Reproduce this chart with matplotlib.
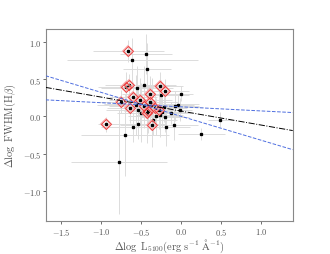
import numpy as np
import matplotlib
matplotlib.use("Agg")
import matplotlib.pyplot as plt

plt.rcParams['font.family'] = 'serif'
plt.rcParams['font.serif'] = ['cmr10', 'DejaVu Serif']
plt.rcParams['mathtext.fontset'] = 'cm'
plt.rcParams['axes.formatter.use_mathtext'] = True

# black points (all sources)
x_all = [-0.66, -0.44, -0.61, -0.43, -0.69, -0.65, -0.46, -0.555, -0.27, -0.206, -0.25,
         0.0, -0.605, -0.395, -0.756, -0.51, -0.386, -0.46, -0.56, -0.635, -0.33, -0.28,
         -0.41, -0.43, -0.54, -0.24, -0.08, -0.04, -0.126, -0.2, -0.27, -0.32, -0.35,
         -0.017, -0.94, -0.366, -0.54, -0.6, -0.185, -0.09, -0.706, 0.256, -0.78, 0.487,
         -0.22, -0.37, -0.5]
y_all = [0.88, 0.84, 0.75, 0.64, 0.39, 0.42, 0.42, 0.375, 0.40, 0.344, 0.285,
         0.30, 0.26, 0.295, 0.196, 0.214, 0.196, 0.143, 0.15, 0.116, 0.107, 0.085,
         0.07, 0.045, 0.09, 0.06, 0.134, 0.15, 0.04, -0.013, 0.018, 0.0, -0.045,
         0.09, -0.107, -0.116, -0.11, -0.15, -0.15, -0.12, -0.25, -0.24, -0.61, -0.044,
         0.12, 0.16, 0.05]
xerr_all = [0.44, 0.33, 0.82, 0.3, 0.35, 0.3, 0.4, 0.45, 0.3, 0.3, 0.35,
            0.15, 0.3, 0.35, 0.3, 0.4, 0.35, 0.45, 0.5, 0.3, 0.4, 0.35,
            0.3, 0.35, 0.4, 0.3, 0.3, 0.2, 0.25, 0.3, 0.3, 0.35, 0.3,
            0.15, 0.1, 0.4, 0.35, 0.4, 0.3, 0.3, 0.55, 0.3, 0.6, 0.15,
            0.5, 0.6, 0.3]
yerr_all = [0.15, 0.27, 0.3, 0.35, 0.2, 0.15, 0.25, 0.3, 0.2, 0.15, 0.2,
            0.1, 0.2, 0.2, 0.15, 0.3, 0.35, 0.3, 0.4, 0.2, 0.2, 0.25,
            0.3, 0.4, 0.3, 0.2, 0.2, 0.15, 0.15, 0.2, 0.3, 0.25, 0.2,
            0.15, 0.1, 0.3, 0.2, 0.2, 0.25, 0.2, 0.55, 0.08, 0.7, 0.1,
            0.2, 0.35, 0.4]

# sources marked with red diamonds
x_red = [-0.66, -0.69, -0.65, -0.756, -0.605, -0.635, -0.94, -0.395, -0.27, -0.206,
         -0.51, -0.46, -0.386, -0.41, -0.366, -0.33, -0.28, -0.43]
y_red = [0.88, 0.39, 0.42, 0.196, 0.26, 0.116, -0.107, 0.295, 0.40, 0.344,
         0.214, 0.143, 0.196, 0.07, -0.116, 0.107, 0.085, 0.045]

# fit lines: (intercept at x=0, slope)
fit_best = (0.07, -0.187)
fit_hi = (-0.0, -0.32)
fit_lo = (0.127, -0.055)

fig = plt.figure(figsize=(3.3, 2.55), dpi=100)
ax = fig.add_axes([0.138, 0.128, 0.749, 0.754])

ax.errorbar(x_all, y_all, xerr=xerr_all, yerr=yerr_all, fmt='s', ms=1.4,
            mfc='black', mec='black', ecolor='#dcdcdc', elinewidth=0.7, capsize=0, zorder=2)
ax.plot(x_red, y_red, 'D', ms=4.6, mfc='none', mec='#f7a8a8', mew=1.2, zorder=3)
ax.plot(x_red, y_red, 'D', ms=4.6, mfc='none', mec='#e83030', mew=0.5, zorder=4)

xx = np.array([-1.7, 1.4])
ax.plot(xx, fit_best[0] + fit_best[1] * xx, color='black', ls='-.', lw=0.7, zorder=5)
ax.plot(xx, fit_hi[0] + fit_hi[1] * xx, color='#4f6fe0', ls='--', lw=0.7, zorder=5)
ax.plot(xx, fit_lo[0] + fit_lo[1] * xx, color='#4f6fe0', ls='--', lw=0.7, zorder=5)

ax.set_xlim(-1.7, 1.4)
ax.set_ylim(-1.41, 1.17)
ax.set_xticks([-1.5, -1.0, -0.5, 0.0, 0.5, 1.0])
ax.set_yticks([-1.0, -0.5, 0.0, 0.5, 1.0])

tc = '#555555'
for s in ax.spines.values():
    s.set_color('#888888')
    s.set_linewidth(0.8)
ax.tick_params(labelsize=6, colors=tc, length=2, width=0.6, pad=1)
ax.set_xlabel(r'$\Delta\log\ \mathrm{L_{5100}(erg\ s^{-1}\ \AA^{-1})}$', fontsize=7.5, color=tc, labelpad=0)
ax.set_ylabel(r'$\Delta\log\ \mathrm{FWHM(H\beta)}$', fontsize=7.5, color=tc, labelpad=3)

fig.savefig('out.png', dpi=100)
